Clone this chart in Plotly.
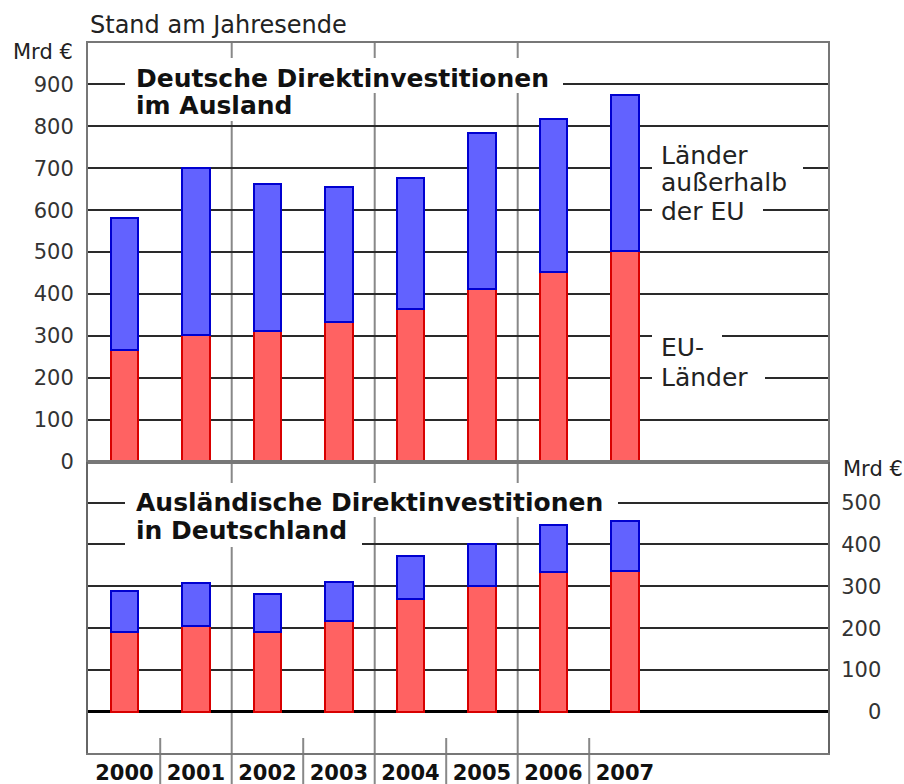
import plotly.graph_objects as go

# ---- data (Mrd €, Stand am Jahresende) ----
years = ["2000", "2001", "2002", "2003", "2004", "2005", "2006", "2007"]
# Deutsche Direktinvestitionen im Ausland
out_eu = [265, 302, 312, 333, 364, 412, 453, 503]
out_non_eu = [316, 398, 350, 323, 313, 373, 364, 372]
# Ausländische Direktinvestitionen in Deutschland
in_eu = [191, 206, 191, 218, 270, 301, 333, 337]
in_non_eu = [98, 102, 91, 93, 103, 101, 114, 120]

top_ticks = [0, 100, 200, 300, 400, 500, 600, 700, 800, 900]
bottom_ticks = [0, 100, 200, 300, 400, 500]
FS = "\u2007"
bottom_ticktext = [FS * (3 - len(str(v))) + str(v) for v in bottom_ticks]

# ---- style / layout geometry ----
W, H = 904, 784
ML, MR, MT, MB = 88, 76, 43, 31
PW, PH = W - ML - MR, H - MT - MB
RED_FILL, RED_LINE = "#ff6262", "#d80000"
BLUE_FILL, BLUE_LINE = "#6262ff", "#0000d0"
FONT = "DejaVu Sans"
TXT = "#222222"


def px(xp):
    return (xp - ML) / PW


def py(yp):
    return (MT + PH - yp) / PH


split = py(461.5)

fig = go.Figure()
bar_w = 0.39
for vals, fill, line, ax in [
    (out_eu, RED_FILL, RED_LINE, "y"),
    (out_non_eu, BLUE_FILL, BLUE_LINE, "y"),
    (in_eu, RED_FILL, RED_LINE, "y2"),
    (in_non_eu, BLUE_FILL, BLUE_LINE, "y2"),
]:
    fig.add_trace(go.Bar(
        x=years, y=vals, xaxis="x", yaxis=ax, width=bar_w,
        marker=dict(color=fill, line=dict(color=line, width=2)),
        showlegend=False, hoverinfo="x+y",
    ))

fig.update_layout(
    width=W, height=H, autosize=False,
    margin=dict(l=ML, r=MR, t=MT, b=MB, pad=0, autoexpand=False),
    paper_bgcolor="white", plot_bgcolor="white",
    barmode="stack",
    font=dict(family=FONT, color=TXT),
    xaxis=dict(
        anchor="y2", type="category", range=[-0.51, 9.84], automargin=False,
        showgrid=False, zeroline=False,
        showline=True, mirror="all", linecolor="#777777", linewidth=2,
        ticks="", tickfont=dict(family=FONT, size=21, weight="bold", color="#111111"),
        ticklabelstandoff=0,
    ),
    yaxis=dict(
        domain=[split, 1], range=[0, 999], anchor="x", automargin=False,
        tickvals=top_ticks, ticks="",
        showgrid=True, gridcolor="#2a2a2a", gridwidth=2,
        zeroline=True, zerolinecolor="#000000", zerolinewidth=3,
        showline=True, mirror=True, linecolor="#777777", linewidth=2,
        tickfont=dict(family=FONT, size=21, color="#333333"),
        ticklabelstandoff=8,
    ),
    yaxis2=dict(
        domain=[0, split], range=[-98, 598], anchor="x", side="right", automargin=False,
        tickvals=bottom_ticks, ticktext=bottom_ticktext, ticks="",
        showgrid=True, gridcolor="#2a2a2a", gridwidth=2,
        zeroline=True, zerolinecolor="#000000", zerolinewidth=3,
        showline=True, mirror=True, linecolor="#666666", linewidth=2,
        tickfont=dict(family=FONT, size=21, color="#333333"),
        ticklabelstandoff=7,
    ),
)

# separator lines between the year columns
for v in [1.5, 3.5, 5.5]:
    fig.add_shape(type="line", xref="x", yref="paper", x0=v, x1=v,
                  y0=1, y1=py(784), line=dict(color="#888888", width=2), layer="below")
for v in [0.5, 2.5, 4.5, 6.5]:
    fig.add_shape(type="line", xref="x", yref="paper", x0=v, x1=v,
                  y0=py(738), y1=py(784), line=dict(color="#888888", width=2), layer="below")

# white label boxes that interrupt the grid lines
for x0, x1, y0, y1 in [
    (125, 563, 58, 93), (125, 305, 93, 121),
    (125, 618, 483, 517), (125, 362, 517, 547),
    (652, 803, 142, 196), (652, 763, 196, 224),
    (652, 722, 326, 358), (652, 765, 358, 392),
]:
    fig.add_shape(type="rect", xref="paper", yref="paper",
                  x0=px(x0), x1=px(x1), y0=py(y0), y1=py(y1),
                  fillcolor="white", line=dict(width=0), layer="above")


def label(text, x, y, size, bold=False, xanchor="left", color=TXT):
    fig.add_annotation(
        text=text, xref="paper", yref="paper", x=px(x), y=py(y),
        xanchor=xanchor, yanchor="middle", showarrow=False,
        font=dict(family=FONT, size=size, color=color, weight="bold" if bold else "normal"),
        borderpad=0,
    )


label("Stand am Jahresende", 89, 25, 24)
label("Mrd €", 74, 52, 21, xanchor="right")
label("Mrd €", 842, 469, 21)

# panel titles
label("Deutsche Direktinvestitionen", 135, 78, 25, bold=True, color="#111111")
label("im Ausland", 135, 105, 25, bold=True, color="#111111")
label("Ausländische Direktinvestitionen", 135, 502, 25, bold=True, color="#111111")
label("in Deutschland", 135, 530, 25, bold=True, color="#111111")

# series labels
for t, yy in [("Länder", 155), ("außerhalb", 183), ("der EU", 211), ("EU-", 347), ("Länder", 377)]:
    label(t, 660, yy, 25)

fig.write_html(
    "out.html",
    config={"responsive": False, "displayModeBar": False},
    post_script="document.body.style.margin='0px';",
)
